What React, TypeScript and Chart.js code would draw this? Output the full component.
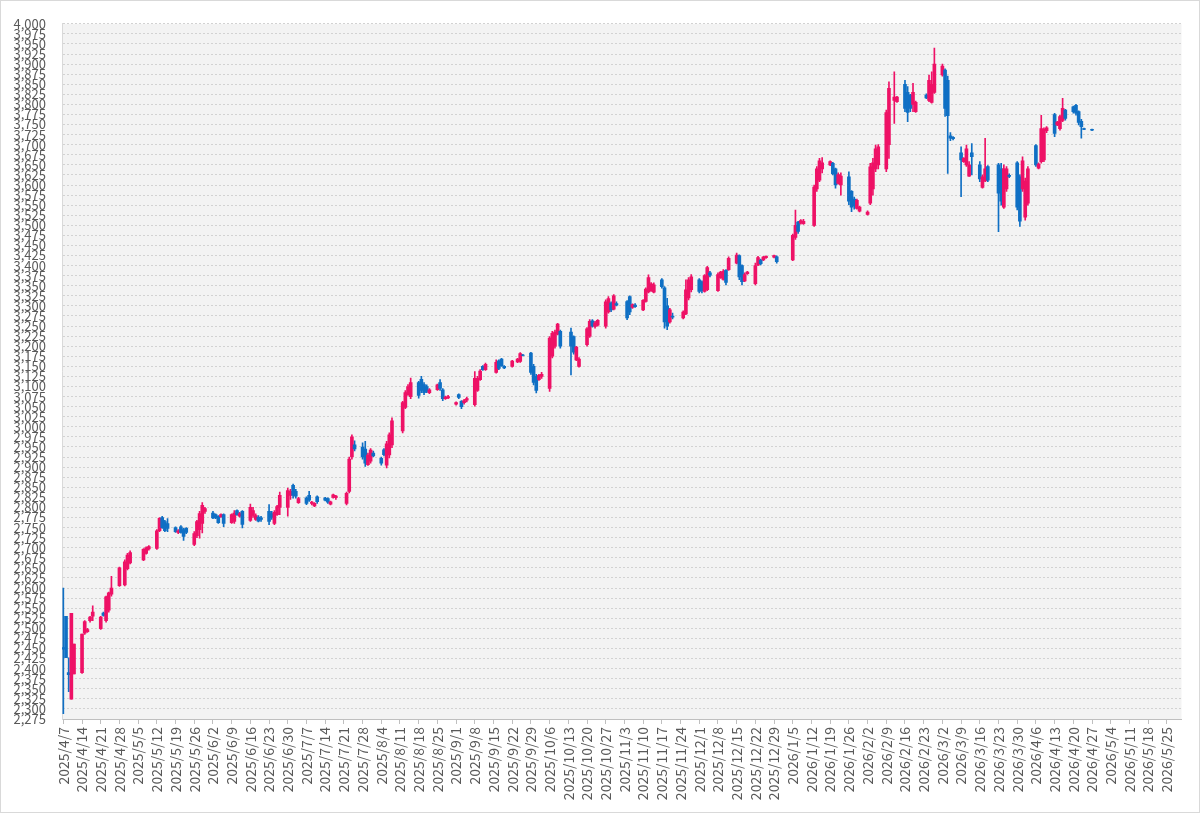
// App.tsx

import Chart from "chart.js/auto";
import React, { useEffect, useRef } from "react";

// trading days (one line per week)
const tradingDays: string[] = [
  "2025/4/7", "2025/4/8", "2025/4/9", "2025/4/10", "2025/4/11",
  "2025/4/14", "2025/4/15", "2025/4/16", "2025/4/17", "2025/4/18",
  "2025/4/21", "2025/4/22", "2025/4/23", "2025/4/24", "2025/4/25",
  "2025/4/28", "2025/4/30", "2025/5/1", "2025/5/2",
  "2025/5/7", "2025/5/8", "2025/5/9",
  "2025/5/12", "2025/5/13", "2025/5/14", "2025/5/15", "2025/5/16",
  "2025/5/19", "2025/5/20", "2025/5/21", "2025/5/22", "2025/5/23",
  "2025/5/26", "2025/5/27", "2025/5/28", "2025/5/29", "2025/5/30",
  "2025/6/2", "2025/6/3", "2025/6/4", "2025/6/5", "2025/6/6",
  "2025/6/9", "2025/6/10", "2025/6/11", "2025/6/12", "2025/6/13",
  "2025/6/16", "2025/6/17", "2025/6/18", "2025/6/19", "2025/6/20",
  "2025/6/23", "2025/6/24", "2025/6/25", "2025/6/26", "2025/6/27",
  "2025/6/30", "2025/7/1", "2025/7/2", "2025/7/3", "2025/7/4",
  "2025/7/7", "2025/7/8", "2025/7/9", "2025/7/10", "2025/7/11",
  "2025/7/14", "2025/7/15", "2025/7/16", "2025/7/17", "2025/7/18",
  "2025/7/22", "2025/7/23", "2025/7/24", "2025/7/25",
  "2025/7/28", "2025/7/29", "2025/7/30", "2025/7/31", "2025/8/1",
  "2025/8/4", "2025/8/5", "2025/8/6", "2025/8/7", "2025/8/8",
  "2025/8/12", "2025/8/13", "2025/8/14", "2025/8/15",
  "2025/8/18", "2025/8/19", "2025/8/20", "2025/8/21", "2025/8/22",
  "2025/8/25", "2025/8/26", "2025/8/27", "2025/8/28", "2025/8/29",
  "2025/9/1", "2025/9/2", "2025/9/3", "2025/9/4", "2025/9/5",
  "2025/9/8", "2025/9/9", "2025/9/10", "2025/9/11", "2025/9/12",
  "2025/9/16", "2025/9/17", "2025/9/18", "2025/9/19",
  "2025/9/22", "2025/9/24", "2025/9/25", "2025/9/26",
  "2025/9/29", "2025/9/30", "2025/10/1", "2025/10/2", "2025/10/3",
  "2025/10/6", "2025/10/7", "2025/10/8", "2025/10/9", "2025/10/10",
  "2025/10/14", "2025/10/15", "2025/10/16", "2025/10/17",
  "2025/10/20", "2025/10/21", "2025/10/22", "2025/10/23", "2025/10/24",
  "2025/10/27", "2025/10/28", "2025/10/29", "2025/10/30", "2025/10/31",
  "2025/11/4", "2025/11/5", "2025/11/6", "2025/11/7",
  "2025/11/10", "2025/11/11", "2025/11/12", "2025/11/13", "2025/11/14",
  "2025/11/17", "2025/11/18", "2025/11/19", "2025/11/20", "2025/11/21",
  "2025/11/25", "2025/11/26", "2025/11/27", "2025/11/28",
  "2025/12/1", "2025/12/2", "2025/12/3", "2025/12/4", "2025/12/5",
  "2025/12/8", "2025/12/9", "2025/12/10", "2025/12/11", "2025/12/12",
  "2025/12/15", "2025/12/16", "2025/12/17", "2025/12/18", "2025/12/19",
  "2025/12/22", "2025/12/23", "2025/12/24", "2025/12/25", "2025/12/26",
  "2025/12/29", "2025/12/30",
  "2026/1/5", "2026/1/6", "2026/1/7", "2026/1/8", "2026/1/9",
  "2026/1/13", "2026/1/14", "2026/1/15", "2026/1/16",
  "2026/1/19", "2026/1/20", "2026/1/21", "2026/1/22", "2026/1/23",
  "2026/1/26", "2026/1/27", "2026/1/28", "2026/1/29", "2026/1/30",
  "2026/2/2", "2026/2/3", "2026/2/4", "2026/2/5", "2026/2/6",
  "2026/2/9", "2026/2/10", "2026/2/12", "2026/2/13",
  "2026/2/16", "2026/2/17", "2026/2/18", "2026/2/19", "2026/2/20",
  "2026/2/24", "2026/2/25", "2026/2/26", "2026/2/27",
  "2026/3/2", "2026/3/3", "2026/3/4", "2026/3/5", "2026/3/6",
  "2026/3/9", "2026/3/10", "2026/3/11", "2026/3/12", "2026/3/13",
  "2026/3/16", "2026/3/17", "2026/3/18", "2026/3/19",
  "2026/3/23", "2026/3/24", "2026/3/25", "2026/3/26", "2026/3/27",
  "2026/3/30", "2026/3/31", "2026/4/1", "2026/4/2", "2026/4/3",
  "2026/4/6", "2026/4/7", "2026/4/8", "2026/4/9", "2026/4/10",
  "2026/4/13", "2026/4/14", "2026/4/15", "2026/4/16", "2026/4/17",
  "2026/4/20", "2026/4/21", "2026/4/22", "2026/4/23", "2026/4/24",
  "2026/4/27",
];

const opens: number[] = [
  2452, 2530, 2390, 2324, 2387,
  2390, 2488, 2492, 2519, 2530,
  2499, 2538, 2519, 2545, 2585,
  2606, 2608, 2648, 2662,
  2670, 2686, 2697,
  2698, 2742, 2775, 2765, 2760,
  2750, 2738, 2752, 2745, 2748,
  2708, 2730, 2745, 2760, 2790,
  2786, 2782, 2778, 2777, 2782,
  2762, 2765, 2792, 2778, 2790,
  2768, 2780, 2770, 2776, 2774,
  2790, 2785, 2760, 2782, 2800,
  2800, 2830, 2855, 2840, 2812,
  2823, 2830, 2810, 2804, 2826,
  2823, 2822, 2808, 2825, 2824,
  2810, 2840, 2925, 2955,
  2950, 2945, 2906, 2915, 2935,
  2922, 2943, 2905, 2930, 2955,
  2990, 3048, 3080, 3075,
  3110, 3118, 3105, 3100, 3085,
  3092, 3110, 3092, 3070, 3072,
  3056, 3080, 3063, 3060, 3066,
  3055, 3090, 3117, 3150, 3142,
  3135, 3164, 3168, 3150,
  3150, 3161, 3162, 3178,
  3183, 3150, 3125, 3117, 3125,
  3095, 3175, 3200, 3230, 3237,
  3235, 3224, 3166, 3150,
  3204, 3225, 3263, 3249, 3252,
  3250, 3285, 3307, 3292, 3306,
  3311, 3323, 3296, 3302,
  3290, 3311, 3335, 3338, 3334,
  3365, 3345, 3300, 3260, 3275,
  3270, 3280, 3320, 3340,
  3365, 3360, 3336, 3340, 3382,
  3338, 3370, 3366, 3388, 3390,
  3406, 3425, 3400, 3362, 3380,
  3355, 3402, 3414, 3414, 3420,
  3421, 3422,
  3414, 3470, 3508, 3505, 3504,
  3500, 3590, 3612, 3640,
  3650, 3654, 3640, 3604, 3600,
  3620, 3584, 3565, 3542, 3535,
  3527, 3555, 3590, 3640, 3650,
  3640, 3700, 3810, 3807,
  3850, 3830, 3823, 3800, 3782,
  3823, 3810, 3805, 3830,
  3873, 3885, 3860, 3722, 3718,
  3680, 3658, 3650, 3622, 3680,
  3650, 3594, 3610, 3646,
  3650, 3640, 3545, 3590, 3624,
  3655, 3620, 3590, 3520, 3555,
  3698, 3642, 3658, 3662, 3735,
  3775, 3749, 3740, 3760, 3786,
  3794, 3798, 3782, 3758, 3740,
  3738,
];

const highs: number[] = [
  2600, 2530, 2427, 2537, 2461,
  2486, 2519, 2500, 2530, 2556,
  2530, 2540, 2580, 2590, 2629,
  2652, 2670, 2686, 2692,
  2698, 2702, 2705,
  2745, 2775, 2778, 2768, 2772,
  2752, 2745, 2755, 2748, 2750,
  2740, 2768, 2790, 2812, 2800,
  2790, 2784, 2780, 2784, 2784,
  2784, 2792, 2794, 2788, 2792,
  2808, 2800, 2784, 2780, 2778,
  2807, 2790, 2792, 2805, 2838,
  2848, 2845, 2858, 2845, 2825,
  2826, 2840, 2815, 2812, 2829,
  2825, 2824, 2816, 2833, 2830,
  2838, 2925, 2980, 2965,
  2960, 2964, 2935, 2946, 2940,
  2925, 2946, 2964, 2985, 3022,
  3063, 3090, 3105, 3121,
  3113, 3125, 3110, 3104, 3095,
  3106, 3117, 3095, 3076, 3078,
  3062, 3082, 3065, 3068, 3074,
  3137, 3125, 3142, 3152, 3158,
  3166, 3166, 3170, 3152,
  3165, 3170, 3184, 3180,
  3185, 3155, 3130, 3130, 3135,
  3224, 3237, 3240, 3257, 3240,
  3245, 3226, 3200, 3172,
  3246, 3266, 3266, 3262, 3266,
  3315, 3323, 3310, 3328, 3310,
  3313, 3325, 3305, 3306,
  3316, 3345, 3377, 3358, 3357,
  3368, 3348, 3319, 3294, 3282,
  3288, 3365, 3370, 3378,
  3368, 3362, 3378, 3398, 3386,
  3382, 3386, 3390, 3390, 3422,
  3431, 3427, 3402, 3382, 3386,
  3406, 3423, 3416, 3423, 3424,
  3426, 3424,
  3478, 3538, 3510, 3514, 3515,
  3600, 3646, 3666, 3668,
  3660, 3656, 3642, 3630, 3630,
  3633, 3586, 3570, 3565, 3547,
  3536, 3654, 3666, 3699, 3700,
  3786, 3856, 3881, 3820,
  3860, 3844, 3825, 3852, 3808,
  3826, 3873, 3881, 3940,
  3900, 3888, 3870, 3730, 3720,
  3695, 3668, 3699, 3658, 3703,
  3658, 3625, 3716, 3648,
  3654, 3654, 3650, 3646, 3628,
  3658, 3625, 3670, 3617, 3646,
  3700, 3655, 3773, 3742, 3745,
  3778, 3758, 3773, 3815, 3788,
  3796, 3800, 3784, 3763, 3741,
  3739,
];

const lows: number[] = [
  2288, 2427, 2343, 2324, 2387,
  2388, 2485, 2490, 2515, 2519,
  2497, 2530, 2515, 2540, 2580,
  2604, 2605, 2645, 2660,
  2668, 2684, 2694,
  2696, 2740, 2748, 2740, 2740,
  2738, 2735, 2736, 2718, 2735,
  2705, 2725, 2724, 2737, 2785,
  2772, 2772, 2760, 2775, 2752,
  2760, 2760, 2780, 2776, 2749,
  2765, 2775, 2768, 2764, 2765,
  2757, 2770, 2757, 2780, 2782,
  2778, 2820, 2823, 2823, 2810,
  2807, 2815, 2806, 2802, 2810,
  2816, 2810, 2806, 2823, 2820,
  2806, 2836, 2920, 2940,
  2920, 2902, 2904, 2910, 2925,
  2905, 2928, 2898, 2923, 2948,
  2985, 3045, 3078, 3070,
  3071, 3085, 3080, 3085, 3082,
  3090, 3090, 3065, 3068, 3070,
  3054, 3070, 3045, 3056, 3062,
  3051, 3088, 3115, 3140, 3140,
  3133, 3142, 3150, 3144,
  3148, 3159, 3160, 3176,
  3130, 3104, 3084, 3115, 3120,
  3088, 3171, 3195, 3228, 3195,
  3129, 3180, 3164, 3148,
  3200, 3222, 3247, 3245, 3250,
  3245, 3282, 3286, 3290, 3300,
  3266, 3278, 3294, 3296,
  3288, 3309, 3332, 3336, 3332,
  3344, 3245, 3241, 3257, 3268,
  3268, 3278, 3315, 3335,
  3332, 3332, 3334, 3338, 3372,
  3336, 3368, 3364, 3352, 3388,
  3404, 3365, 3352, 3360, 3378,
  3352, 3400, 3402, 3412, 3418,
  3419, 3406,
  3412, 3465, 3480, 3503, 3502,
  3497, 3584, 3608, 3630,
  3648, 3625, 3592, 3602, 3575,
  3551, 3534, 3540, 3540, 3533,
  3525, 3551, 3575, 3633, 3640,
  3633, 3666, 3753, 3805,
  3782, 3757, 3782, 3782, 3780,
  3814, 3807, 3803, 3827,
  3870, 3770, 3629, 3710, 3712,
  3571, 3656, 3646, 3621, 3625,
  3608, 3592, 3608, 3608,
  3484, 3550, 3542, 3584, 3618,
  3538, 3497, 3584, 3513, 3550,
  3646, 3640, 3654, 3658, 3730,
  3720, 3747, 3736, 3757, 3761,
  3778, 3773, 3749, 3716, 3737,
  3735,
];

const closes: number[] = [
  2448, 2427, 2385, 2537, 2461,
  2486, 2517, 2497, 2528, 2540,
  2528, 2532, 2578, 2588, 2600,
  2650, 2665, 2682, 2688,
  2696, 2700, 2703,
  2742, 2773, 2750, 2742, 2748,
  2740, 2742, 2738, 2728, 2738,
  2735, 2765, 2785, 2805, 2797,
  2774, 2774, 2762, 2782, 2760,
  2782, 2786, 2782, 2785, 2758,
  2800, 2792, 2780, 2766, 2770,
  2765, 2775, 2788, 2802, 2830,
  2842, 2840, 2830, 2828, 2822,
  2810, 2818, 2813, 2810, 2814,
  2818, 2813, 2814, 2831, 2828,
  2835, 2920, 2975, 2945,
  2925, 2910, 2930, 2942, 2928,
  2910, 2931, 2958, 2980, 3015,
  3060, 3085, 3100, 3110,
  3078, 3090, 3085, 3088, 3092,
  3104, 3095, 3070, 3074, 3075,
  3060, 3073, 3050, 3065, 3070,
  3120, 3120, 3138, 3142, 3155,
  3160, 3145, 3152, 3146,
  3163, 3168, 3182, 3177,
  3135, 3110, 3090, 3128, 3130,
  3220, 3232, 3235, 3255, 3200,
  3200, 3185, 3198, 3168,
  3243, 3262, 3250, 3258, 3264,
  3310, 3318, 3290, 3325, 3302,
  3270, 3285, 3303, 3298,
  3314, 3342, 3370, 3355, 3352,
  3348, 3260, 3250, 3290, 3272,
  3285, 3340, 3365, 3372,
  3336, 3338, 3375, 3395, 3376,
  3378, 3384, 3386, 3358, 3418,
  3426, 3372, 3360, 3378, 3384,
  3400, 3420, 3405, 3421, 3423,
  3425, 3410,
  3475, 3500, 3485, 3512, 3510,
  3595, 3640, 3660, 3655,
  3658, 3628, 3600, 3626, 3622,
  3560, 3545, 3548, 3562, 3545,
  3533, 3645, 3655, 3690, 3695,
  3780, 3840, 3818, 3818,
  3790, 3780, 3790, 3830, 3805,
  3816, 3860, 3850, 3900,
  3895, 3790, 3772, 3716, 3715,
  3662, 3666, 3690, 3650, 3670,
  3615, 3620, 3640, 3612,
  3580, 3560, 3640, 3640, 3621,
  3545, 3510, 3660, 3610, 3640,
  3650, 3652, 3740, 3738, 3742,
  3728, 3756, 3770, 3790, 3765,
  3782, 3778, 3755, 3745, 3738,
  3736,
];

// date axis: every calendar day from 2025/4/7 to 2026/5/30, labelled weekly
const axisStart = new Date(2025, 3, 7);
const axisDays = 419;
const yMin = 2275;
const yMax = 4000;
const yStep = 25;

const UP_COLOR = "#ee1166";
const DOWN_COLOR = "#0f6fc4";
const FONT = "'Noto Sans CJK JP', 'Noto Sans', sans-serif";

const fmtDate = (d: Date) => `${d.getFullYear()}/${d.getMonth() + 1}/${d.getDate()}`;

const App: React.FC = () => {
  const chartRef = useRef<HTMLCanvasElement | null>(null);
  const chartInstanceRef = useRef<Chart | null>(null);

  useEffect(() => {
    if (!chartRef.current) return;
    if (chartInstanceRef.current) chartInstanceRef.current.destroy();

    const labels: string[] = [];
    for (let i = 0; i < axisDays; i++) {
      labels.push(fmtDate(new Date(axisStart.getFullYear(), axisStart.getMonth(), axisStart.getDate() + i)));
    }
    const indexOf = new Map(labels.map((l, i) => [l, i]));

    const bodies: ([number, number] | null)[] = labels.map(() => null);
    const wicks: ([number, number] | null)[] = labels.map(() => null);
    const colors: string[] = labels.map(() => UP_COLOR);
    tradingDays.forEach((day, i) => {
      const k = indexOf.get(day);
      if (k === undefined) return;
      bodies[k] = [opens[i], closes[i]];
      wicks[k] = [lows[i], highs[i]];
      colors[k] = closes[i] >= opens[i] ? UP_COLOR : DOWN_COLOR;
    });

    const ctx = chartRef.current.getContext("2d");
    if (!ctx) return;

    chartInstanceRef.current = new Chart(ctx, {
      type: "bar",
      data: {
        labels,
        datasets: [
          {
            label: "high-low",
            data: wicks as any,
            backgroundColor: colors,
            barThickness: 1,
            grouped: false,
            order: 2,
          },
          {
            label: "open-close",
            data: bodies as any,
            backgroundColor: colors,
            barThickness: 3,
            grouped: false,
            order: 1,
          },
        ],
      },
      options: {
        animation: false,
        responsive: false,
        devicePixelRatio: 1,
        layout: { padding: { top: 22, right: 8, left: 0, bottom: 0 } },
        plugins: {
          legend: { display: false },
          tooltip: { enabled: false },
        },
        scales: {
          x: {
            type: "category",
            offset: true,
            afterFit: (scale: any) => {
              scale.height = 94;
            },
            grid: {
              offset: false,
              drawOnChartArea: false,
              tickLength: 5,
              tickColor: (c: any) => (c.index % 7 === 0 ? "#bfbfbf" : "rgba(0,0,0,0)"),
            },
            border: { color: "#bfbfbf" },
            ticks: {
              autoSkip: false,
              maxRotation: 90,
              minRotation: 90,
              padding: 3,
              color: "#595959",
              font: { family: FONT, size: 14 },
              callback: (_v: any, i: number) => (i % 7 === 0 ? labels[i] : ""),
            },
          },
          y: {
            min: yMin,
            max: yMax,
            afterFit: (scale: any) => {
              scale.width = 62;
            },
            grid: { color: "#d2d2d2", drawTicks: false },
            border: { display: true, color: "#d9d9d9", dash: [2, 2] },
            ticks: {
              stepSize: yStep,
              autoSkip: false,
              padding: 16,
              color: "#595959",
              font: { family: FONT, size: 13 },
              callback: (v: any) => Number(v).toLocaleString("en-US"),
            },
          },
        },
      },
      plugins: [
        {
          id: "frame",
          beforeDraw: (chart: any) => {
            const { ctx: c, chartArea: a, width, height } = chart;
            c.save();
            c.fillStyle = "#ffffff";
            c.fillRect(0, 0, width, height);
            c.fillStyle = "#f3f3f3";
            c.fillRect(a.left, a.top, a.right - a.left, a.bottom - a.top);
            c.strokeStyle = "#d9d9d9";
            c.lineWidth = 1;
            c.strokeRect(0.5, 0.5, width - 1, height - 1);
            c.restore();
          },
        },
      ],
    });

    return () => {
      if (chartInstanceRef.current) {
        chartInstanceRef.current.destroy();
        chartInstanceRef.current = null;
      }
    };
  }, []);

  return (
    <div style={{ position: "fixed", left: 0, top: 0, width: 1200, height: 813, background: "#fff" }}>
      <canvas ref={chartRef} width={1200} height={813} />
    </div>
  );
};

export default App;
